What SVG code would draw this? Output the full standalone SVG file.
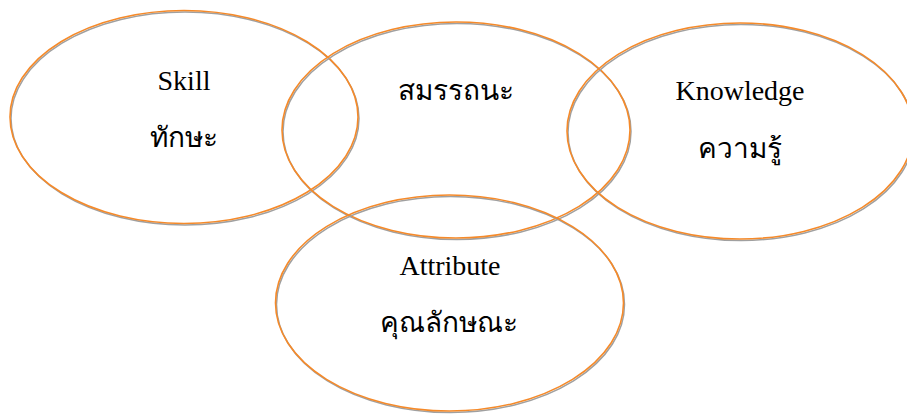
<svg xmlns="http://www.w3.org/2000/svg" width="907" height="414" viewBox="0 0 907 414">
<style>
.sh{fill:none;stroke:#a0a0a0;stroke-width:1.5}
.ol{fill:none;stroke:#f58a2a;stroke-width:1.6}
.en{font-family:"Liberation Serif","Times New Roman",serif;font-size:28px;fill:#000;text-anchor:middle}
.th{font-family:"Liberation Serif","Noto Sans CJK SC",serif;font-size:28px;fill:#000;text-anchor:middle;font-weight:300}
</style>
<rect width="907" height="414" fill="#fff"/>
<g id="skill">
<ellipse class="sh" cx="185" cy="118.5" rx="174" ry="106.5"/>
<ellipse class="ol" cx="184" cy="117" rx="174" ry="106.5"/>
<text class="en" x="184" y="90">Skill</text>
<text class="th" x="184" y="147">ทักษะ</text>
</g>
<g id="competency">
<ellipse class="sh" cx="457" cy="131.5" rx="174" ry="108"/>
<ellipse class="ol" cx="456" cy="130" rx="174" ry="108"/>
<text class="th" x="456" y="100">สมรรถนะ</text>
</g>
<g id="knowledge">
<ellipse class="sh" cx="741" cy="132.5" rx="173" ry="108"/>
<ellipse class="ol" cx="740" cy="131" rx="173" ry="108"/>
<text class="en" x="740" y="100">Knowledge</text>
<text class="th" x="740" y="158">ความรู้</text>
</g>
<g id="attribute">
<ellipse class="sh" cx="450.5" cy="304.5" rx="174" ry="108"/>
<ellipse class="ol" cx="449.5" cy="303" rx="174" ry="108"/>
<text class="en" x="450" y="275">Attribute</text>
<text class="th" x="449" y="332">คุณลักษณะ</text>
</g>
<g id="connectors"/>
</svg>
